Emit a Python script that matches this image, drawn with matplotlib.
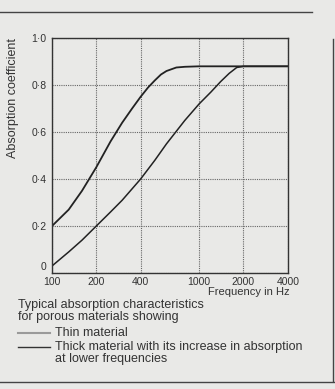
import matplotlib
matplotlib.use("Agg")
import matplotlib.pyplot as plt
import matplotlib.transforms as mtransforms
from matplotlib.lines import Line2D

plt.rcParams['font.family'] = ['Liberation Sans', 'DejaVu Sans']

# 데이터
freq_ticks = [100, 200, 400, 1000, 2000, 4000]
y_ticks = [0, 0.2, 0.4, 0.6, 0.8, 1.0]
y_labels = ["0", "0·2", "0·4", "0·6", "0·8", "1·0"]

thick_f = [100, 130, 160, 200, 250, 300, 350, 400, 450, 500, 550, 600, 700, 800, 1000, 2000, 4000]
thick_a = [0.20, 0.27, 0.35, 0.45, 0.56, 0.64, 0.70, 0.75, 0.79, 0.82, 0.845, 0.86, 0.875, 0.878, 0.88, 0.88, 0.88]

thin_f = [100, 130, 160, 200, 250, 300, 400, 500, 600, 800, 1000, 1200, 1400, 1600, 1800, 2000, 4000]
thin_a = [0.03, 0.09, 0.14, 0.20, 0.26, 0.31, 0.40, 0.48, 0.55, 0.65, 0.72, 0.77, 0.815, 0.85, 0.875, 0.88, 0.88]

bg = "#e9e9e7"
txt = "#333333"
fig = plt.figure(figsize=(3.35, 3.89), dpi=100, facecolor=bg)
ax = fig.add_axes([0.155, 0.298, 0.704, 0.604], facecolor=bg)

ax.plot(thick_f, thick_a, color="#222222", lw=1.3)
ax.plot(thin_f, thin_a, color="#222222", lw=1.1)

ax.set_xscale("log")
ax.set_xlim(100, 4000)
ax.set_ylim(0, 1.0)
ax.set_xticks(freq_ticks)
ax.set_xticklabels([str(f) for f in freq_ticks])
ax.minorticks_off()
ax.set_yticks(y_ticks)
ax.set_yticklabels(y_labels)
ax.tick_params(length=0, labelsize=7.5, colors=txt)
ax.tick_params(axis="x", pad=3)
ax.tick_params(axis="y", pad=4)
ax.grid(True, color="#666666", lw=0.8, ls=(0, (1, 1)))
for s in ax.spines.values():
    s.set_color(txt)
    s.set_linewidth(1.0)

# "0" 라벨은 축선 위로 살짝 올림
lab0 = ax.get_yticklabels()[0]
lab0.set_transform(lab0.get_transform() + mtransforms.ScaledTranslation(0, 5 / 72, fig.dpi_scale_trans))

ax.set_ylabel("Absorption coefficient", fontsize=9, color=txt)
ax.yaxis.set_label_coords(-0.14, 0.745)

fig.text(0.866, 0.242, "Frequency in Hz", fontsize=8, ha="right", color=txt)
fig.text(0.055, 0.170, "Typical absorption characteristics\nfor porous materials showing",
         fontsize=9, color=txt, linespacing=0.95, va="bottom")

# 범례 (그림 아래 설명)
fig.add_artist(Line2D([0.055, 0.15], [0.145, 0.145], color="#9a9a9a", lw=1.5))
fig.text(0.165, 0.145, "Thin material", fontsize=9, color=txt, va="center")
fig.add_artist(Line2D([0.055, 0.15], [0.108, 0.108], color=txt, lw=1.0))
fig.text(0.165, 0.123, "Thick material with its increase in absorption\nat lower frequencies",
         fontsize=9, color=txt, va="top", linespacing=0.95)

# 바깥 테두리
fig.add_artist(Line2D([0.0, 0.93], [0.97, 0.97], color="#444444", lw=1.0))
fig.add_artist(Line2D([0.995, 0.995], [0.02, 0.9], color="#444444", lw=1.0))
fig.add_artist(Line2D([0.0, 1.0], [0.017, 0.017], color="#444444", lw=1.0))

fig.savefig("out.png", dpi=100, facecolor=bg)
